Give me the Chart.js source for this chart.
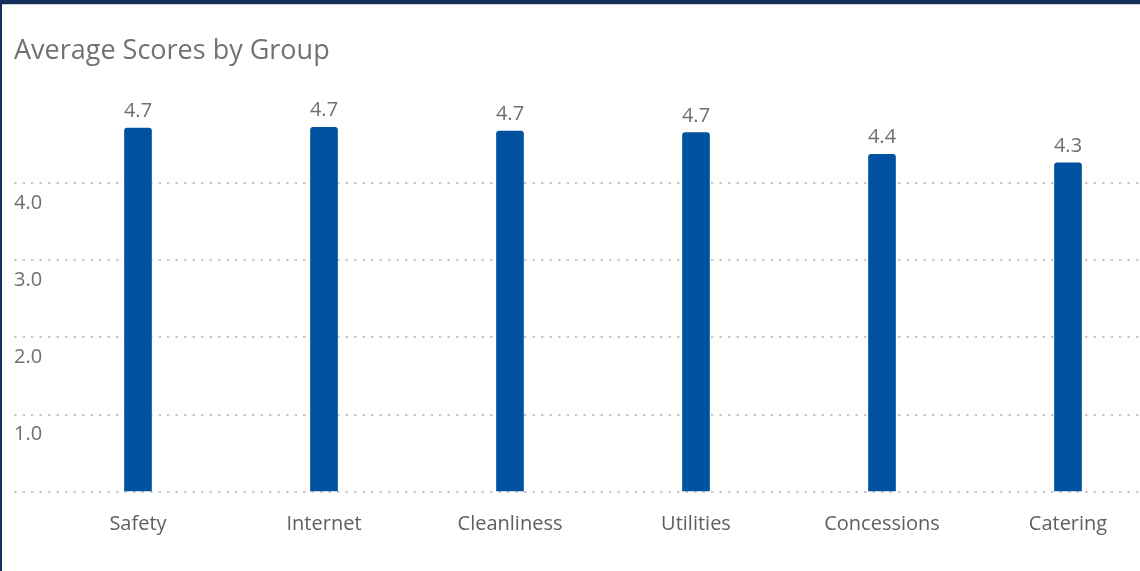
<!DOCTYPE html>
<html>
<head>
<meta charset="utf-8">
<script src="https://cdn.jsdelivr.net/npm/chart.js@4.4.1/dist/chart.umd.min.js"></script>
<style>
  html, body { margin: 0; padding: 0; background: #ffffff; overflow: hidden; }
  #wrap { position: absolute; left: 0; top: 0; width: 1140px; height: 571px; }
  #topbar { position: absolute; left: 0; top: 0; width: 1140px; height: 4px; background: #15305a; z-index: 2; }
  #topline { position: absolute; left: 0; top: 4px; width: 1140px; height: 1px; background: #c9d0da; z-index: 2; }
  #leftbar { position: absolute; left: 0; top: 0; width: 2px; height: 571px; background: #15305a; z-index: 2; }
</style>
</head>
<body>
<div id="wrap"><canvas id="c" width="1140" height="571"></canvas></div>
<div id="topbar"></div><div id="topline"></div><div id="leftbar"></div>
<script>
const chartTitle = "Average Scores by Group";
const categories = ["Safety", "Internet", "Cleanliness", "Utilities", "Concessions", "Catering"];
const scores = [4.71, 4.72, 4.67, 4.65, 4.37, 4.26];
const yTickValues = [0, 1, 2, 3, 4];

const FONT = "'Open Sans', 'Noto Sans', sans-serif";

const valueLabels = {
  id: 'valueLabels',
  afterDatasetsDraw(chart) {
    const ctx = chart.ctx;
    const meta = chart.getDatasetMeta(0);
    ctx.save();
    ctx.font = "20px " + FONT;
    ctx.fillStyle = "#6f6f6f";
    ctx.textAlign = "center";
    ctx.textBaseline = "alphabetic";
    meta.data.forEach((bar, i) => {
      ctx.fillText(scores[i].toFixed(1), bar.x, bar.y - 11);
    });
    ctx.restore();
  }
};

new Chart(document.getElementById('c'), {
  type: 'bar',
  data: {
    datasets: [{
      data: categories.map((c, i) => ({ x: i, y: scores[i] })),
      backgroundColor: '#00519f',
      barThickness: 27,
      borderRadius: 3,
      borderSkipped: 'start'
    }]
  },
  options: {
    responsive: false,
    animation: false,
    layout: { padding: { left: 14, right: 0, top: 0, bottom: 15 } },
    plugins: {
      legend: { display: false },
      tooltip: { enabled: false },
      title: {
        display: true,
        text: chartTitle,
        align: 'start',
        color: '#717171',
        font: { family: FONT, size: 27, weight: 'normal' },
        padding: { top: 35.5, bottom: 37.7 }
      }
    },
    scales: {
      x: {
        type: 'linear',
        offset: false,
        min: -124 / 186,
        max: 5 + 72 / 186,
        grid: { display: false, drawTicks: false },
        border: { display: false },
        afterBuildTicks: (scale) => { scale.ticks = categories.map((c, i) => ({ value: i })); },
        ticks: {
          autoSkip: false,
          maxRotation: 0,
          padding: 20,
          color: '#5f5f5f',
          font: { family: FONT, size: 20 },
          callback: (v) => categories[v]
        }
      },
      y: {
        min: 0,
        max: 5,
        border: { display: false, dash: [2.5, 6] },
        grid: {
          color: '#c9c9c9',
          lineWidth: 2,
          drawTicks: false
        },
        afterBuildTicks: (scale) => { scale.ticks = yTickValues.map(v => ({ value: v })); },
        ticks: {
          mirror: true,
          padding: 0,
          labelOffset: 20,
          color: '#6f6f6f',
          font: { family: FONT, size: 20 },
          callback: (v) => v === 0 ? '' : v.toFixed(1)
        }
      }
    }
  },
  plugins: [valueLabels]
});
</script>
</body>
</html>
